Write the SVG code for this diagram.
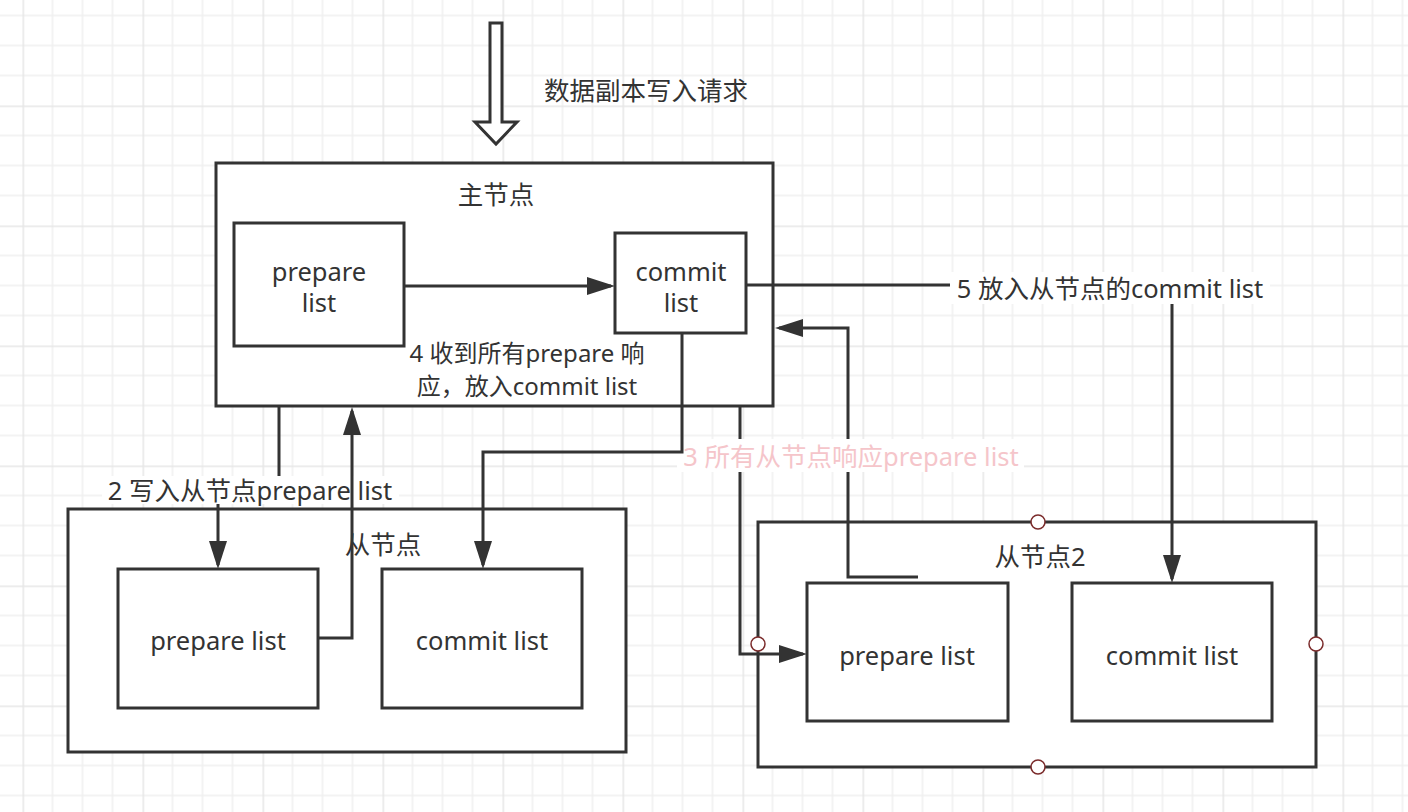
<svg xmlns="http://www.w3.org/2000/svg" width="1408" height="812" viewBox="0 0 1408 812">
  <defs>
    <pattern id="grid" x="22.5" y="-14.5" width="120" height="120" patternUnits="userSpaceOnUse">
      <rect width="120" height="120" fill="#ffffff"/>
      <g stroke="#f0f0f0" stroke-width="1.5">
        <line x1="30" y1="0" x2="30" y2="120"/>
        <line x1="60" y1="0" x2="60" y2="120"/>
        <line x1="90" y1="0" x2="90" y2="120"/>
        <line x1="0" y1="30" x2="120" y2="30"/>
        <line x1="0" y1="60" x2="120" y2="60"/>
        <line x1="0" y1="90" x2="120" y2="90"/>
      </g>
      <g stroke="#e6e6e6" stroke-width="1.5">
        <line x1="0.75" y1="0" x2="0.75" y2="120"/>
        <line x1="0" y1="0.75" x2="120" y2="0.75"/>
      </g>
    </pattern>
    <marker id="arrow" viewBox="0 0 28 18" markerWidth="28" markerHeight="18" refX="24" refY="9" orient="auto" markerUnits="userSpaceOnUse">
      <path d="M0,0 L28,9 L0,18 z" fill="#333333"/>
    </marker>
  </defs>
  <style>
    .box { fill: #ffffff; stroke: #333333; stroke-width: 3; }
    .txt { font-family: "Noto Sans", "Noto Sans CJK SC", sans-serif; font-size: 25.5px; fill: #333333; text-anchor: middle; dominant-baseline: central; }
    .note { font-size: 24px; }
    .edge { fill: none; stroke: #333333; stroke-width: 3; }
    .pin { fill: #ffffff; stroke: #7b2b2b; stroke-width: 1.5; }
    .lblbg { fill: #ffffff; }
    .pink { fill: #f5c5ca; }
  </style>

  <!-- background grid -->
  <rect x="0" y="0" width="1408" height="812" fill="url(#grid)"/>

  <!-- incoming write request -->
  <g id="request">
    <path d="M490,23 L502,23 L502,122 L517,122 L496,144 L475,122 L490,122 Z" fill="#ffffff" stroke="#333333" stroke-width="3" stroke-linejoin="miter"/>
    <text class="txt" x="646" y="90">数据副本写入请求</text>
  </g>

  <!-- master node -->
  <g id="master">
    <rect class="box" x="216" y="163" width="557" height="243"/>
    <text class="txt" x="496" y="194">主节点</text>
    <rect class="box" x="234" y="223" width="170" height="123"/>
    <text class="txt"><tspan x="319" y="271">prepare</tspan><tspan x="319" y="302">list</tspan></text>
    <rect class="box" x="615" y="233" width="131" height="100"/>
    <text class="txt"><tspan x="681" y="271">commit</tspan><tspan x="681" y="302">list</tspan></text>
  </g>

  <!-- slave node 1 -->
  <g id="slave1">
    <rect class="box" x="68" y="509" width="558" height="243"/>
    <text class="txt" x="383" y="544">从节点</text>
    <rect class="box" x="118" y="569" width="200" height="139"/>
    <text class="txt" x="218" y="640">prepare list</text>
    <rect class="box" x="382" y="569" width="200" height="139"/>
    <text class="txt" x="482" y="640">commit list</text>
  </g>

  <!-- slave node 2 -->
  <g id="slave2">
    <rect class="box" x="758" y="522" width="558" height="245"/>
    <text class="txt" x="1040" y="556">从节点2</text>
    <rect class="box" x="807" y="583" width="201" height="138"/>
    <text class="txt" x="907" y="655">prepare list</text>
    <rect class="box" x="1072" y="583" width="200" height="138"/>
    <text class="txt" x="1172" y="655">commit list</text>
  </g>

  <!-- connectors -->
  <g id="edges">
    <!-- 2: write to slave prepare list -->
    <path class="edge" d="M279,406 L279,490 L218,490 L218,565" marker-end="url(#arrow)"/>
    <rect class="lblbg" x="102" y="476" width="297" height="28"/>
    <text class="txt" x="250" y="490">2 写入从节点prepare list</text>

    <!-- master to slave 2 prepare list -->
    <path class="edge" d="M740,406 L740,654 L803,654" marker-end="url(#arrow)"/>

    <!-- 3: slave 2 prepare response back to master -->
    <path class="edge" d="M918,577 L848,577 L848,328 L779,328" marker-end="url(#arrow)"/>
    <rect class="lblbg" x="677" y="439" width="347" height="33"/>
    <text class="txt pink" x="851" y="456">3 所有从节点响应prepare list</text>

    <!-- master commit list to slave commit list -->
    <path class="edge" d="M682,333 L682,452 L483,452 L483,565" marker-end="url(#arrow)"/>

    <!-- 5: commit to slave 2 commit list -->
    <path class="edge" d="M746,285 L1172,285 L1172,579" marker-end="url(#arrow)"/>
    <rect class="lblbg" x="950" y="272" width="320" height="32"/>
    <text class="txt" x="1110" y="288">5 放入从节点的commit list</text>

    <!-- slave prepare response to master -->
    <path class="edge" d="M318,638 L352,638 L352,411" marker-end="url(#arrow)"/>

    <!-- 4: master prepare list to commit list -->
    <path class="edge" d="M404,286 L611,286" marker-end="url(#arrow)"/>
    <text class="txt note"><tspan x="527" y="352">4 收到所有prepare 响</tspan><tspan x="527" y="385">应，放入commit list</tspan></text>
  </g>

  <!-- connection points on slave node 2 -->
  <g id="slave2-pins">
    <circle class="pin" cx="1038" cy="522" r="7"/>
    <circle class="pin" cx="1316" cy="644" r="7"/>
    <circle class="pin" cx="1038" cy="767" r="7"/>
    <circle class="pin" cx="758" cy="644" r="7"/>
  </g>
</svg>
